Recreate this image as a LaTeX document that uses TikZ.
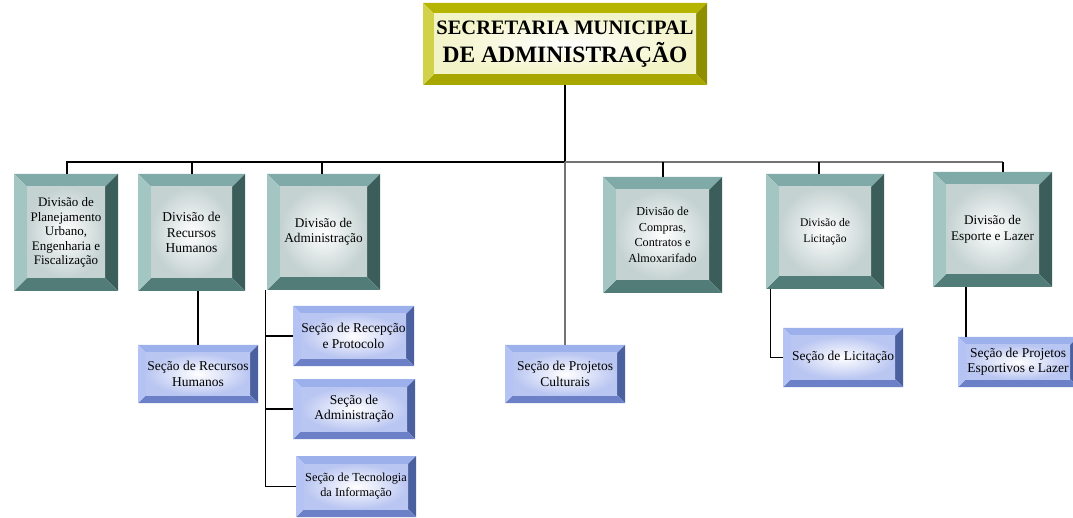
\documentclass[tikz,border=0pt]{standalone}
\usepackage{fontspec}
\setmainfont{Liberation Serif}
\definecolor{divTop}{HTML}{80AAA7}
\definecolor{divLeft}{HTML}{A4C6C3}
\definecolor{divRight}{HTML}{3C5E5B}
\definecolor{divBottom}{HTML}{517C78}
\definecolor{divFace}{HTML}{C4D2D1}
\definecolor{secTop}{HTML}{9CB0EC}
\definecolor{secLeft}{HTML}{B4C3F4}
\definecolor{secRight}{HTML}{4B609F}
\definecolor{secBottom}{HTML}{6B80C6}
\definecolor{secFace}{HTML}{BAC6F2}
\definecolor{topTop}{HTML}{B5B500}
\definecolor{topLeft}{HTML}{D2D24A}
\definecolor{topRight}{HTML}{8E8E00}
\definecolor{topBottom}{HTML}{A7A700}
\definecolor{topFace}{HTML}{F3F3C8}
% bevel frame drawn inside a node: #1 bevel, #2 top, #3 left, #4 right, #5 bottom, #6 face
\newcommand\bevelbox[6]{%
  \coordinate (bvA) at (path picture bounding box.north west);
  \coordinate (bvB) at (path picture bounding box.north east);
  \coordinate (bvC) at (path picture bounding box.south east);
  \coordinate (bvD) at (path picture bounding box.south west);
  \coordinate (bva) at ([shift={(#1pt,-#1pt)}]bvA);
  \coordinate (bvb) at ([shift={(-#1pt,-#1pt)}]bvB);
  \coordinate (bvc) at ([shift={(-#1pt,#1pt)}]bvC);
  \coordinate (bvd) at ([shift={(#1pt,#1pt)}]bvD);
  \fill[#2] (bvA) -- (bvB) -- (bvb) -- (bva) -- cycle;
  \fill[#4] (bvB) -- (bvC) -- (bvc) -- (bvb) -- cycle;
  \fill[#5] (bvC) -- (bvD) -- (bvd) -- (bvc) -- cycle;
  \fill[#3] (bvD) -- (bvA) -- (bva) -- (bvd) -- cycle;
  \shade[inner color=white, outer color=#6] (bva) rectangle (bvc);
}
\tikzset{
  wh/.style 2 args={minimum width=#1pt, minimum height=#2pt},
  boxbase/.style={rectangle, inner sep=0pt, align=center, text=black},
  topbox/.style={boxbase, path picture={\bevelbox{11}{topTop}{topLeft}{topRight}{topBottom}{topFace}}},
  divbox/.style={boxbase, path picture={\bevelbox{13}{divTop}{divLeft}{divRight}{divBottom}{divFace}}},
  secbox/.style={boxbase, font=\fontsize{13.5}{15.5}\selectfont, path picture={\bevelbox{8}{secTop}{secLeft}{secRight}{secBottom}{secFace}}},
  link/.style={line width=1.2pt, black},
  glink/.style={line width=1.2pt, black!55}
}

\begin{document}
\begin{tikzpicture}[x=1pt,y=-1pt]
\clip (0,0) rectangle (1073,518);

\node [topbox, wh={284}{82}, name=top] at (565,44)
  {\fontsize{20.5}{25}\selectfont\bfseries SECRETARIA MUNICIPAL\\[7pt]
   \fontsize{23.5}{27}\selectfont\bfseries DE ADMINISTRAÇÃO};

\node [divbox, wh={104}{117}, font=\fontsize{13}{14.5}\selectfont, name=d1] at (66,232.5) {Divisão de\\Planejamento\\Urbano,\\Engenharia e\\Fiscalização};
\node [divbox, wh={107}{117}, font=\fontsize{13.5}{15.7}\selectfont, name=d2] at (191.5,232.5) {Divisão de\\Recursos\\Humanos};
\node [divbox, wh={113}{116}, font=\fontsize{13.3}{15.5}\selectfont, name=d3] at (323.5,232) {Divisão de\\Administração};
\node [divbox, wh={119}{116}, font=\fontsize{12.2}{15.5}\selectfont, name=d4] at (662.5,235) {Divisão de\\Compras,\\Contratos e\\Almoxarifado};
\node [divbox, wh={118}{115}, font=\fontsize{11.6}{16.5}\selectfont, name=d5] at (825,231.5) {Divisão de\\Licitação};
\node [divbox, wh={119}{115}, font=\fontsize{13.2}{16}\selectfont, name=d6] at (992.5,229.5) {Divisão de\\Esporte e Lazer};

\node [secbox, wh={120}{58}, name=s2] at (198,374) {Seção de Recursos\\Humanos};
\node [secbox, wh={121}{60}, name=s3a] at (353.5,336) {Seção de Recepção\\e Protocolo};
\node [secbox, wh={122}{60}, name=s3b] at (354,409) {Seção de\\Administração};
\node [secbox, wh={120}{61}, font=\fontsize{12.3}{15}\selectfont, name=s3c] at (356,486.5) {Seção de Tecnologia\\da Informação};
\node [secbox, wh={120}{58}, name=s4] at (565,374) {Seção de Projetos\\Culturais};
\node [secbox, wh={120}{59}, name=s5] at (843,357.5) {Seção de Licitação};
\node [secbox, wh={120}{50}, name=s6] at (1018,362) {Seção de Projetos\\Esportivos e Lazer};

\coordinate (bus) at (565,162);
\coordinate (spine) at ([xshift=-1pt]d3.south west);
\draw [link, line width=2pt] (top.south) -- (bus);
\draw [link] (bus) -- (bus -| d1.north);
\draw [glink] (bus) -- ([xshift=10.5pt]d6.north |- bus);
\draw [glink] (bus) -- (s4.north);
\draw [link] ([xshift=1pt]d1.north) -- ([xshift=1pt]d1.north |- bus);
\draw [link] ([xshift=0.5pt]d2.north) -- ([xshift=0.5pt]d2.north |- bus);
\draw [link] ([xshift=-1.5pt]d3.north) -- ([xshift=-1.5pt]d3.north |- bus);
\draw [link] ([xshift=0.5pt]d4.north) -- ([xshift=0.5pt]d4.north |- bus);
\draw [link] ([xshift=-6pt]d5.north) -- ([xshift=-6pt]d5.north |- bus);
\draw [link] ([xshift=10.5pt]d6.north) -- ([xshift=10.5pt]d6.north |- bus);
\draw [link] (s2.north) -- (s2.north |- d2.south);
\draw [link] (spine) |- (s3c.west);
\draw [link] (s3a.west) -- (s3a.west -| spine);
\draw [link] (s3b.west) -- (s3b.west -| spine);
\draw [link] ([xshift=5pt]d5.south west) |- (s5.west);
\draw [link] ([xshift=-52pt]s6.north) -- ([xshift=-52pt]s6.north |- d6.south);
\end{tikzpicture}
\end{document}
